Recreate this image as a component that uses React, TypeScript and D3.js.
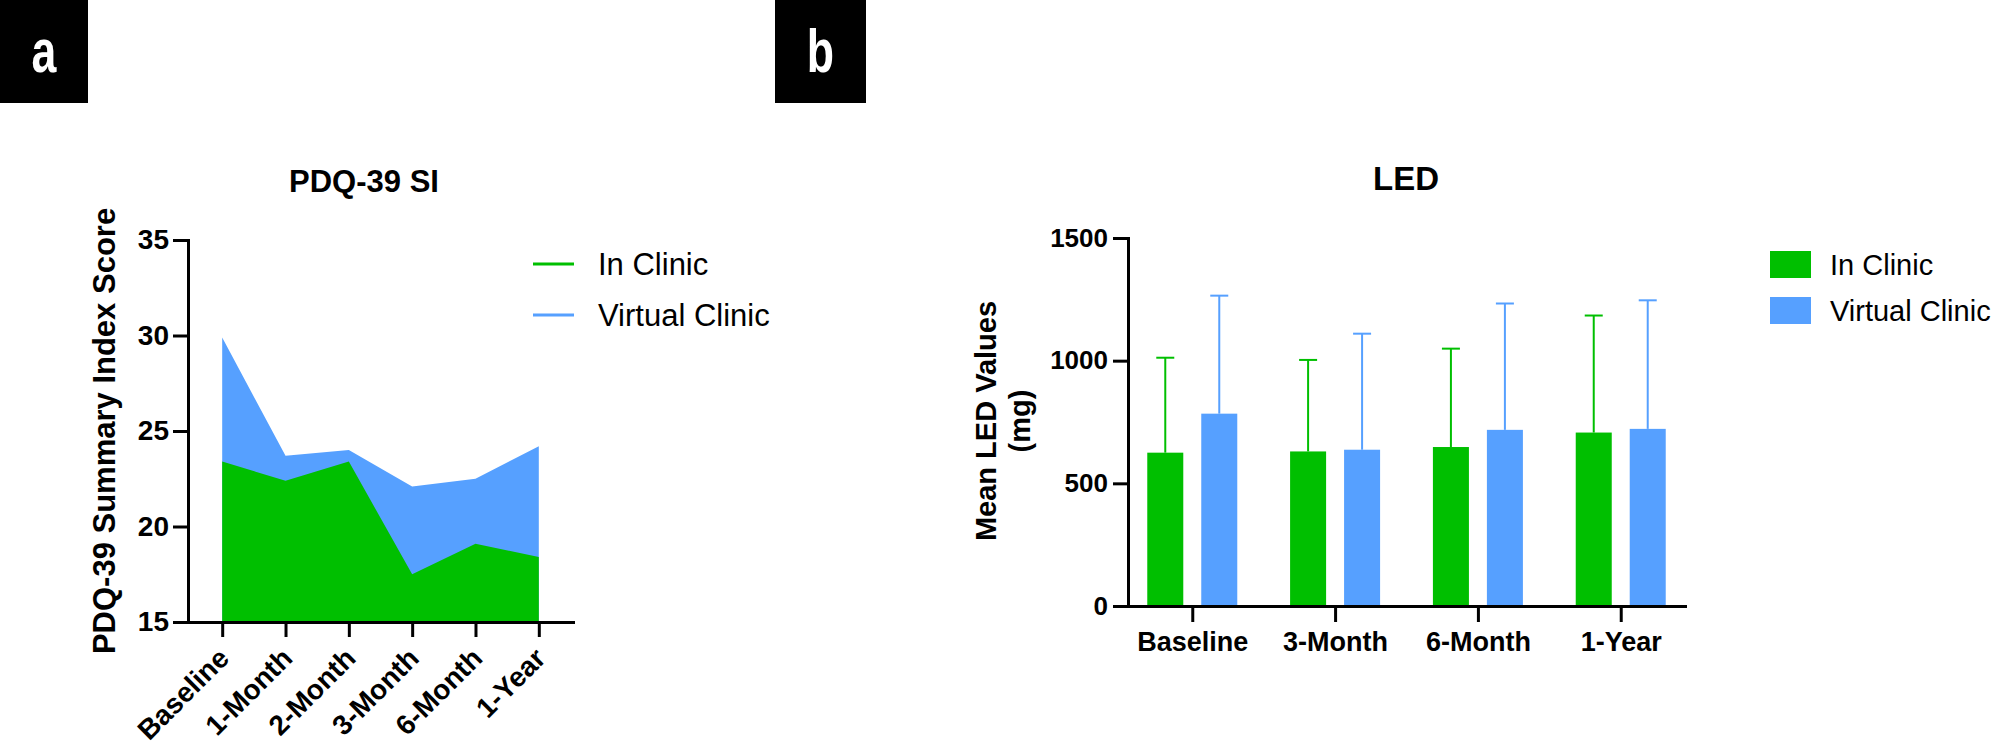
import React, { useRef, useEffect } from 'react';
import * as d3 from 'd3';

// Panel a: PDQ-39 summary index
const pdqTimepoints = ['Baseline', '1-Month', '2-Month', '3-Month', '6-Month', '1-Year'];
const pdqInClinic = [23.4, 22.4, 23.4, 17.5, 19.1, 18.4];
const pdqVirtual = [29.9, 23.7, 24.0, 22.1, 22.5, 24.2];
const pdqTicks = [15, 20, 25, 30, 35];

// Panel b: LED (mean + SD)
const ledTimepoints = ['Baseline', '3-Month', '6-Month', '1-Year'];
const ledInClinic = [625, 630, 648, 707];
const ledInClinicSD = [387, 373, 401, 477];
const ledVirtual = [784, 637, 718, 722];
const ledVirtualSD = [481, 473, 515, 524];
const ledTicks = [0, 500, 1000, 1500];

const seriesNames = ['In Clinic', 'Virtual Clinic'];
const seriesColors = ['#00BF00', '#56A0FF'];

const FONT = 'Arial, "Liberation Sans", Helvetica, sans-serif';
const W = 1999;
const H = 747;

const App: React.FC = () => {
  const svgRef = useRef<SVGSVGElement>(null);

  useEffect(() => {
    if (!svgRef.current) return;
    const svg = d3.select(svgRef.current);
    svg.selectAll('*').remove();
    svg.attr('font-family', FONT);

    const styleAxis = (g: d3.Selection<SVGGElement, unknown, null, undefined>, size: number) => {
      g.select('.domain').attr('stroke-width', 3).attr('stroke-linecap', 'square');
      g.selectAll('.tick line').attr('stroke-width', 3);
      g.selectAll('.tick text')
        .attr('font-family', FONT)
        .attr('font-size', size)
        .attr('font-weight', 700)
        .attr('fill', '#000');
    };

    // panel letters
    const letters = [
      { t: 'a', x: 0, w: 88 },
      { t: 'b', x: 775, w: 91 },
    ];
    letters.forEach(l => {
      svg.append('rect').attr('x', l.x).attr('y', 0).attr('width', l.w).attr('height', 103).attr('fill', '#000');
      svg.append('text')
        .attr('transform', `translate(${l.x + l.w / 2},72) scale(0.72,1)`)
        .attr('text-anchor', 'middle')
        .attr('font-size', 62)
        .attr('font-weight', 700)
        .attr('fill', '#fff')
        .text(l.t);
    });

    // ---------- Panel a ----------
    const xA = d3.scalePoint<string>().domain(pdqTimepoints).range([188, 573]).padding(0.54);
    const yA = d3.scaleLinear().domain([15, 35]).range([622, 240]);

    const area = (vals: number[]) =>
      d3.area<number>()
        .x((_, i) => xA(pdqTimepoints[i])!)
        .y0(yA(15))
        .y1(d => yA(d))(vals);

    svg.append('path').attr('d', area(pdqVirtual)).attr('fill', seriesColors[1]);
    svg.append('path').attr('d', area(pdqInClinic)).attr('fill', seriesColors[0]);

    const yAxisA = svg.append('g')
      .attr('transform', `translate(188,0)`)
      .call(d3.axisLeft(yA).tickValues(pdqTicks).tickSize(15).tickSizeOuter(0).tickPadding(4));
    styleAxis(yAxisA, 28);

    const xAxisA = svg.append('g')
      .attr('transform', `translate(0,622)`)
      .call(d3.axisBottom(xA).tickSize(15).tickSizeOuter(0));
    styleAxis(xAxisA, 28);
    xAxisA.selectAll('.tick text')
      .attr('y', 0)
      .attr('dy', 0)
      .attr('text-anchor', 'end')
      .attr('transform', 'translate(8,38) rotate(-45)');

    svg.append('text')
      .attr('transform', 'translate(115,431) rotate(-90)')
      .attr('text-anchor', 'middle')
      .attr('font-size', 31)
      .attr('font-weight', 700)
      .text('PDQ-39 Summary Index Score');

    svg.append('text')
      .attr('x', 364)
      .attr('y', 192)
      .attr('text-anchor', 'middle')
      .attr('font-size', 31)
      .attr('font-weight', 700)
      .text('PDQ-39 SI');

    seriesNames.forEach((name, i) => {
      const y = 264 + i * 51;
      svg.append('line')
        .attr('x1', 533).attr('x2', 574).attr('y1', y).attr('y2', y)
        .attr('stroke', seriesColors[i]).attr('stroke-width', 3);
      svg.append('text')
        .attr('x', 598).attr('y', y + 11)
        .attr('font-size', 31)
        .text(name);
    });

    // ---------- Panel b ----------
    const xB = d3.scalePoint<string>().domain(ledTimepoints).range([1128, 1685]).padding(0.45);
    const xInner = d3.scaleBand<string>().domain(seriesNames).range([-45, 45]).paddingInner(0.333);
    const yB = d3.scaleLinear().domain([0, 1500]).range([606, 238]);

    const ledMeans = [ledInClinic, ledVirtual];
    const ledSDs = [ledInClinicSD, ledVirtualSD];

    ledTimepoints.forEach((tp, gi) => {
      seriesNames.forEach((name, si) => {
        const mean = ledMeans[si][gi];
        const sd = ledSDs[si][gi];
        const x0 = xB(tp)! + xInner(name)!;
        const bw = xInner.bandwidth();
        const cx = x0 + bw / 2;
        svg.append('line')
          .attr('x1', cx).attr('x2', cx)
          .attr('y1', yB(mean)).attr('y2', yB(mean + sd))
          .attr('stroke', seriesColors[si]).attr('stroke-width', 2);
        svg.append('line')
          .attr('x1', cx - 9).attr('x2', cx + 9)
          .attr('y1', yB(mean + sd)).attr('y2', yB(mean + sd))
          .attr('stroke', seriesColors[si]).attr('stroke-width', 2);
        svg.append('rect')
          .attr('x', x0)
          .attr('y', yB(mean))
          .attr('width', bw)
          .attr('height', yB(0) - yB(mean))
          .attr('fill', seriesColors[si]);
      });
    });

    const yAxisB = svg.append('g')
      .attr('transform', `translate(1128,0)`)
      .call(d3.axisLeft(yB).tickValues(ledTicks).tickFormat(d3.format('d')).tickSize(15).tickSizeOuter(0).tickPadding(5));
    styleAxis(yAxisB, 26);

    const xAxisB = svg.append('g')
      .attr('transform', `translate(0,606)`)
      .call(d3.axisBottom(xB).tickSize(16).tickSizeOuter(0).tickPadding(10));
    styleAxis(xAxisB, 27);

    const yLabB = svg.append('text')
      .attr('transform', 'translate(996,421) rotate(-90)')
      .attr('text-anchor', 'middle')
      .attr('font-size', 29)
      .attr('font-weight', 700);
    yLabB.append('tspan').attr('x', 0).attr('dy', 0).text('Mean LED Values');
    yLabB.append('tspan').attr('x', 0).attr('dy', 34).text('(mg)');

    svg.append('text')
      .attr('x', 1406)
      .attr('y', 190)
      .attr('text-anchor', 'middle')
      .attr('font-size', 33)
      .attr('font-weight', 700)
      .text('LED');

    seriesNames.forEach((name, i) => {
      const y = 251 + i * 46;
      svg.append('rect')
        .attr('x', 1770).attr('y', y).attr('width', 41).attr('height', 27)
        .attr('fill', seriesColors[i]);
      svg.append('text')
        .attr('x', 1830).attr('y', y + 24)
        .attr('font-size', 29)
        .text(name);
    });
  }, []);

  return (
    <svg
      ref={svgRef}
      width={W}
      height={H}
      style={{ position: 'absolute', left: 0, top: 0, background: '#fff' }}
    />
  );
};

export default App;
